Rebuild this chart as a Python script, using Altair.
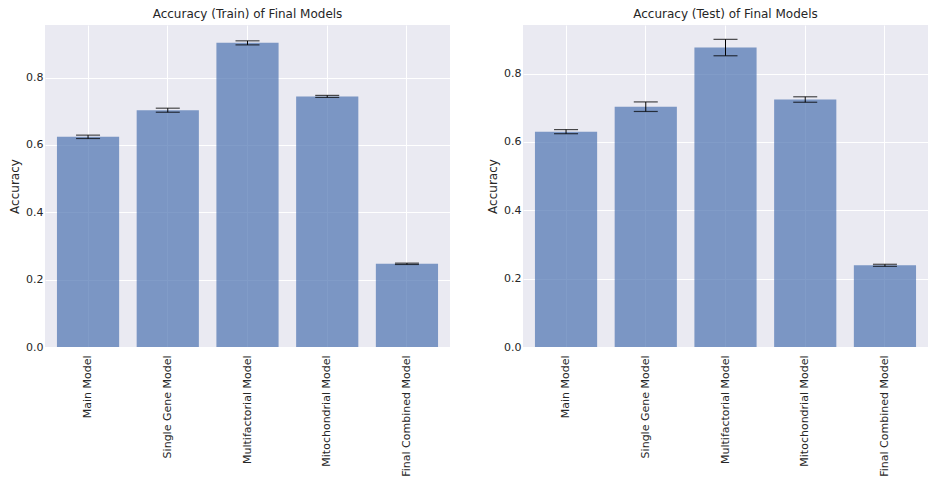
import altair as alt
import pandas as pd

models = ["Main Model", "Single Gene Model", "Multifactorial Model", "Mitochondrial Model", "Final Combined Model"]
train_acc = [0.624, 0.703, 0.903, 0.744, 0.247]
train_err = [0.005, 0.006, 0.006, 0.003, 0.002]
test_acc = [0.630, 0.703, 0.876, 0.724, 0.239]
test_err = [0.006, 0.014, 0.024, 0.008, 0.003]

def panel(acc, err, title, ymax):
    df = pd.DataFrame({"model": models, "acc": acc,
                       "lo": [a - e for a, e in zip(acc, err)],
                       "hi": [a + e for a, e in zip(acc, err)]})
    x = alt.X("model:N", sort=models, title=None,
              scale=alt.Scale(paddingInner=0.22, paddingOuter=0.15),
              axis=alt.Axis(labelAngle=-90, grid=True, gridColor="white", domain=False, ticks=False,
                            labelFontSize=11, labelColor="#262626", labelPadding=8))
    ys = alt.Scale(domain=[0, ymax], nice=False)
    base = alt.Chart(df)
    bars = base.mark_bar(color="#4C72B0", opacity=0.7).encode(
        x=x, y=alt.Y("acc:Q", scale=ys, title="Accuracy",
                     axis=alt.Axis(values=[0, 0.2, 0.4, 0.6, 0.8], format=".1f", gridColor="white",
                                   domain=False, ticks=False, labelFontSize=11, labelColor="#262626",
                                   titleFontSize=12, titleFontWeight="normal", titleColor="#262626")))
    rule = base.mark_rule(color="black").encode(x=x, y="lo:Q", y2="hi:Q")
    cap1 = base.mark_tick(color="black", size=24, thickness=1.2).encode(x=x, y="lo:Q")
    cap2 = base.mark_tick(color="black", size=24, thickness=1.2).encode(x=x, y="hi:Q")
    return alt.layer(bars, rule, cap1, cap2).properties(
        width=405, height=322,
        view=alt.ViewBackground(fill="#EAEAF2", stroke=None),
        title=alt.Title(title, fontSize=12, fontWeight="normal", color="#262626", offset=4))

chart = alt.hconcat(
    panel(train_acc, train_err, "Accuracy (Train) of Final Models", 0.956),
    panel(test_acc, test_err, "Accuracy (Test) of Final Models", 0.942),
    spacing=36,
).configure_view(fill="#EAEAF2", stroke=None).configure(font="DejaVu Sans", padding=0)

chart.save("out.html", embed_options={"renderer": "svg", "actions": False})
